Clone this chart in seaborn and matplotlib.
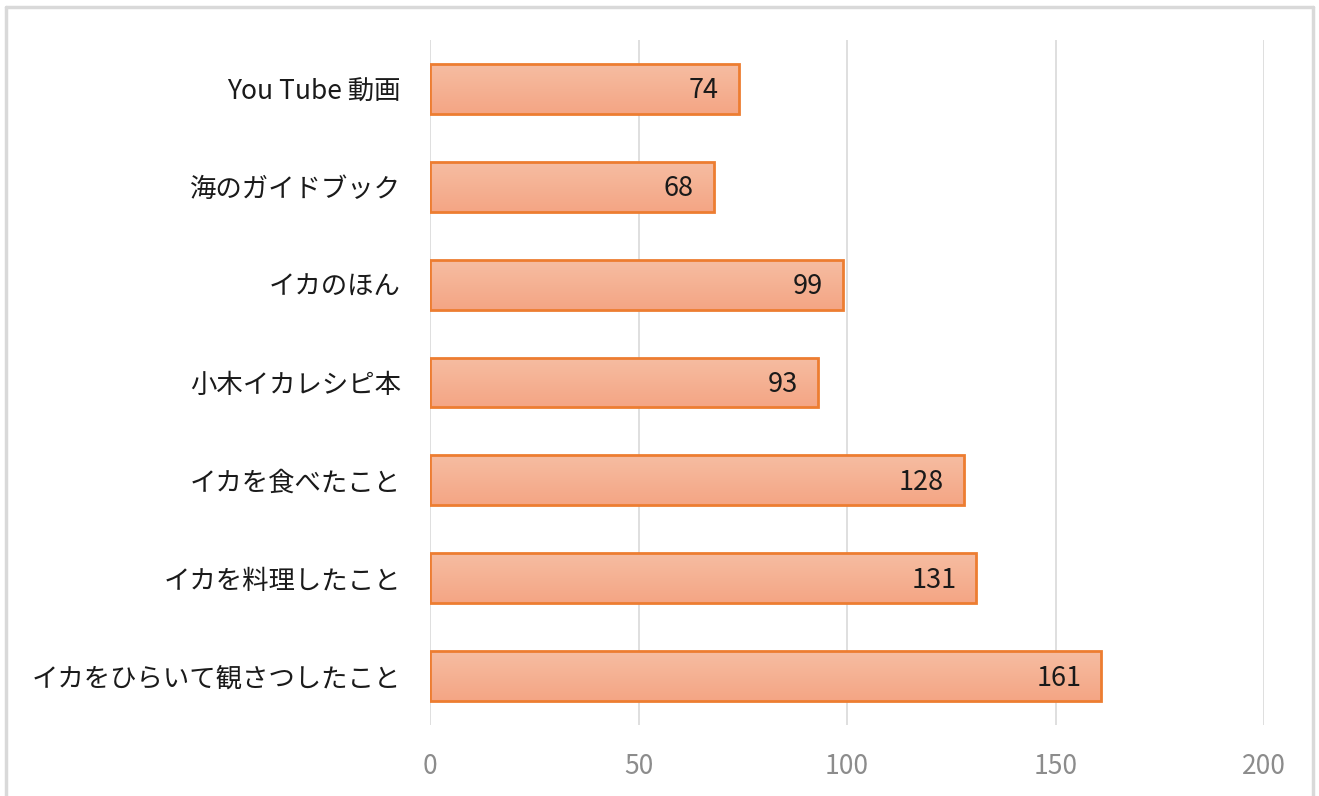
import matplotlib
matplotlib.use("Agg")
import matplotlib.pyplot as plt
import seaborn as sns
import pandas as pd
import numpy as np
from matplotlib.lines import Line2D
from matplotlib.colors import LinearSegmentedColormap

categories = ["You Tube 動画", "海のガイドブック", "イカのほん", "小木イカレシピ本",
              "イカを食べたこと", "イカを料理したこと", "イカをひらいて観さつしたこと"]
values = [74, 68, 99, 93, 128, 131, 161]
xticks = [0, 50, 100, 150, 200]

sns.set_theme(style="white")
plt.rcParams['font.family'] = ['Noto Sans CJK JP', 'DejaVu Sans']

df = pd.DataFrame({"cat": categories, "val": values})

fig = plt.figure(figsize=(13.19, 7.96), dpi=100)
ax = fig.add_axes([430/1319, 1-725/796, (1264-430)/1319, (725-40)/796])

sns.barplot(data=df, x="val", y="cat", orient="h", ax=ax, color="#F5AF90",
            edgecolor="#ED7D31", linewidth=2, width=0.51, saturation=1, zorder=3)

# gradient fill
grad = np.linspace(0, 1, 256).reshape(-1, 1)
cmap = LinearSegmentedColormap.from_list("g", ["#F6BDA2", "#F4A584"])
for p in ax.patches:
    x0, y0 = p.get_x(), p.get_y()
    w, h = p.get_width(), p.get_height()
    im = ax.imshow(grad, cmap=cmap, aspect="auto",
                   extent=[x0, x0 + w, y0 + h, y0], origin="upper", zorder=3.5)
    im.set_clip_path(p)
    p.set_facecolor("none")
    p.set_zorder(4)

ax.set_xlim(0, 200)
ax.set_ylim(6.5, -0.5)
ax.set_xticks(xticks)
ax.set_xticklabels([str(t) for t in xticks])
ax.xaxis.grid(True, color="#D9D9D9", linewidth=1.2, zorder=0)
ax.yaxis.grid(False)
for s in ax.spines.values():
    s.set_visible(False)
ax.tick_params(axis="x", length=0, pad=20, labelsize=19, labelcolor="#8C8C8C")
ax.tick_params(axis="y", length=0, pad=21, labelsize=19, labelcolor="#1A1A1A")
ax.set_xlabel("")
ax.set_ylabel("")

for i, v in enumerate(values):
    ax.text(v - 4.8, i + 0.02, str(v), ha="right", va="center", fontsize=19.5,
            color="#1A1A1A", zorder=5)

# outer frame
fig.add_artist(Line2D([6/1319, 6/1319], [0, 1-7/796], transform=fig.transFigure,
                      color="#D9D9D9", linewidth=2.5))
fig.add_artist(Line2D([6/1319, 1313/1319], [1-7/796, 1-7/796], transform=fig.transFigure,
                      color="#D9D9D9", linewidth=2.5))
fig.add_artist(Line2D([1313/1319, 1313/1319], [0, 1-7/796], transform=fig.transFigure,
                      color="#D9D9D9", linewidth=2.5))

fig.savefig("out.png", dpi=100, facecolor="white")
